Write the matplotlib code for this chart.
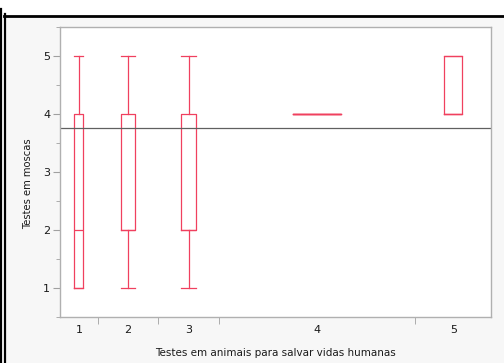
import numpy as np
import matplotlib.pyplot as plt
from matplotlib.lines import Line2D
from matplotlib.ticker import MultipleLocator

# data
groups = ['1', '2', '3', '4', '5']
counts = [5, 8, 8, 26, 10]          # group sizes -> column widths
mins = [1, 1, 1, 4, 4]
q1s = [1, 2, 2, 4, 4]
meds = [2, 2, 2, 4, 4]
q3s = [4, 4, 4, 4, 5]
maxs = [5, 5, 5, 4, 5]
grand_mean = 3.76

red = '#f0405f'

fig = plt.figure(figsize=(5.04, 3.63), dpi=100)
fig.patch.set_facecolor('#f7f7f7')

# window frame bits
fig.patches.append(plt.Rectangle((0, 1 - 15/363), 1, 15/363, transform=fig.transFigure,
                                 facecolor='white', edgecolor='none', zorder=-1))
fig.add_artist(Line2D([4/504, 1], [1 - 15.5/363] * 2, color='black', lw=2.0))
fig.add_artist(Line2D([1/504] * 2, [0, 1 - 9/363], color='black', lw=1.6))
fig.add_artist(Line2D([5/504] * 2, [0, 1 - 14/363], color='black', lw=1.6))
fig.patches.append(plt.Rectangle((2.2/504, 0), 1.6/504, 1 - 9/363, transform=fig.transFigure,
                                 facecolor='white', edgecolor='none', zorder=-1))

ax = fig.add_axes([60/504, 46/363, 431/504, 290/363])
ax.set_facecolor('white')

edges = np.concatenate([[0], np.cumsum(counts)])
centers = (edges[:-1] + edges[1:]) / 2
widths = np.array(counts) * 0.24

stats = []
for i in range(len(groups)):
    stats.append(dict(whislo=mins[i], q1=q1s[i], med=meds[i], q3=q3s[i], whishi=maxs[i], fliers=[]))

lp = dict(color=red, lw=0.9)
ax.bxp(stats, positions=centers, widths=widths, capwidths=widths, showfliers=False,
       boxprops=lp, whiskerprops=lp, capprops=lp, medianprops=lp, manage_ticks=False)

ax.axhline(grand_mean, color='#606060', lw=0.9)

ax.set_xlim(edges[0], edges[-1])
ax.set_ylim(0.5, 5.5)

ax.set_xticks(centers)
ax.set_xticklabels(groups)
ax.set_xticks(edges[1:-1], minor=True)
ax.tick_params(axis='x', which='major', length=0, pad=6, labelsize=8, labelcolor='#1a1a1a')
ax.tick_params(axis='x', which='minor', length=5, color='#a0a0a0')

ax.set_yticks([1, 2, 3, 4, 5])
ax.yaxis.set_minor_locator(MultipleLocator(0.5))
ax.tick_params(axis='y', which='major', length=5, color='#a0a0a0', labelsize=8, labelcolor='#1a1a1a', pad=2)
ax.tick_params(axis='y', which='minor', length=3, color='#a0a0a0')

for s in ax.spines.values():
    s.set_color('#b0b0b0')
    s.set_linewidth(1.0)

ax.set_ylabel('Testes em moscas', fontsize=7.2, color='#1a1a1a')
ax.yaxis.set_label_coords(-0.062, 0.46)
ax.set_xlabel('Testes em animais para salvar vidas humanas', fontsize=7.5, color='#1a1a1a', labelpad=9)

fig.savefig('out.png', dpi=100, facecolor=fig.get_facecolor())
